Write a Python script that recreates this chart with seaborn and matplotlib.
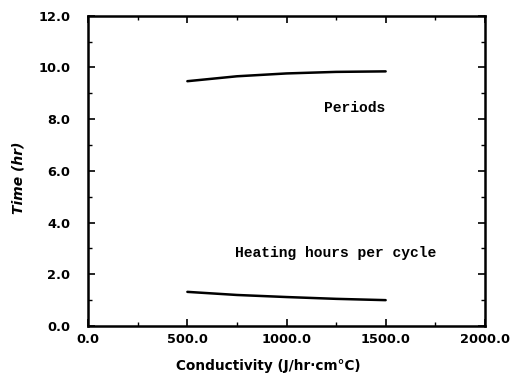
import matplotlib
matplotlib.use("Agg")
import matplotlib.pyplot as plt
import seaborn as sns
import pandas as pd
from matplotlib.ticker import MultipleLocator, FormatStrFormatter

sns.set_theme(style="ticks")
plt.rcParams['font.family'] = ['DejaVu Sans']

# Conductivity values and the two computed curves
conductivity = [500.0, 750.0, 1000.0, 1250.0, 1500.0]
periods = [9.47, 9.66, 9.77, 9.83, 9.85]
heating_hours = [1.32, 1.20, 1.12, 1.05, 1.00]

df = pd.DataFrame({
    "Conductivity": conductivity * 2,
    "Time": periods + heating_hours,
    "Curve": ["Periods"] * len(conductivity) + ["Heating hours per cycle"] * len(conductivity),
})

fig = plt.figure(figsize=(5.13, 3.76), dpi=100)
ax = fig.add_axes([0.172, 0.133, 0.773, 0.825])

sns.lineplot(data=df, x="Conductivity", y="Time", units="Curve", estimator=None,
             color="black", linewidth=1.8, ax=ax, legend=False)

ax.set_xlim(0, 2000)
ax.set_ylim(0, 12)
ax.xaxis.set_major_locator(MultipleLocator(500))
ax.xaxis.set_minor_locator(MultipleLocator(250))
ax.yaxis.set_major_locator(MultipleLocator(2))
ax.yaxis.set_minor_locator(MultipleLocator(1))
ax.xaxis.set_major_formatter(FormatStrFormatter("%.1f"))
ax.yaxis.set_major_formatter(FormatStrFormatter("%.1f"))

ax.tick_params(which="both", direction="in", top=True, right=True,
               color="black", labelcolor="black")
ax.tick_params(which="major", length=5, width=1.2, labelsize=9.3)
ax.tick_params(axis="x", which="major", pad=5)
ax.tick_params(axis="y", which="major", pad=13)
ax.tick_params(which="minor", length=3, width=1.0)
for lbl in ax.get_xticklabels() + ax.get_yticklabels():
    lbl.set_fontweight("bold")

for s in ax.spines.values():
    s.set_linewidth(1.8)
    s.set_color("black")

ax.set_xlabel("Conductivity (J/hr\u00b7cm\u00b0C)", fontsize=9.8, fontweight="bold",
              color="black")
ax.xaxis.set_label_coords(0.455, -0.108)
ax.set_ylabel("Time (hr)", fontsize=10, fontweight="bold", style="italic",
              color="black")
ax.yaxis.set_label_coords(-0.158, 0.477)

mono = ["Liberation Mono", "DejaVu Sans Mono"]
ax.text(1187, 8.45, "Periods", fontsize=10.5, fontweight="bold",
        family=mono, color="black", va="center", ha="left")
ax.text(742, 2.83, "Heating hours per cycle", fontsize=10.5, fontweight="bold",
        family=mono, color="black", va="center", ha="left")

fig.savefig("out.png", dpi=100, facecolor="white")
